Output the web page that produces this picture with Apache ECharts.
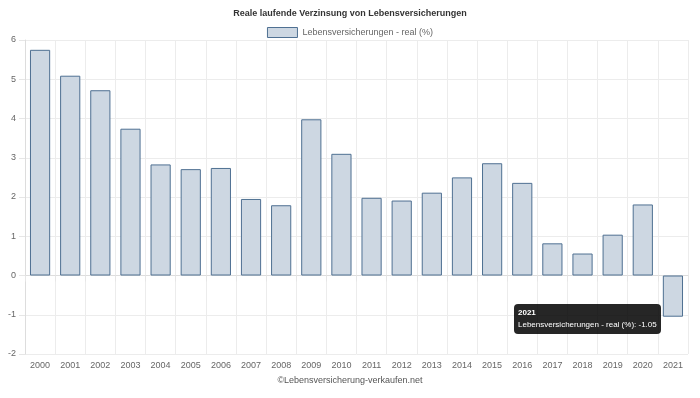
<!DOCTYPE html>
<html>
<head>
<meta charset="utf-8">
<script src="https://cdn.jsdelivr.net/npm/echarts@6/dist/echarts.min.js"></script>
<style>
  html, body { margin: 0; padding: 0; background: #fff; }
  #chart { width: 700px; height: 398px; }
</style>
</head>
<body>
<div id="chart"></div>
<script>
const years = ['2000', '2001', '2002', '2003', '2004', '2005', '2006', '2007', '2008', '2009', '2010',
  '2011', '2012', '2013', '2014', '2015', '2016', '2017', '2018', '2019', '2020', '2021'];
const realRates = [5.75, 5.09, 4.72, 3.74, 2.83, 2.71, 2.74, 1.95, 1.79, 3.98, 3.10,
  1.98, 1.91, 2.11, 2.50, 2.86, 2.36, 0.82, 0.56, 1.04, 1.81, -1.05];
const seriesName = 'Lebensversicherungen - real (%)';

const font = '"Liberation Sans", Arial, sans-serif';
const chart = echarts.init(document.getElementById('chart'));

chart.setOption({
  animation: false,
  textStyle: { fontFamily: font },
  title: {
    text: 'Reale laufende Verzinsung von Lebensversicherungen',
    left: 'center',
    top: 4,
    textStyle: { fontSize: 9, fontWeight: 'bold', color: '#333', fontFamily: font },
  },
  legend: {
    top: 22,
    left: 'center',
    itemWidth: 30,
    itemHeight: 10,
    icon: 'rect',
    itemStyle: { borderWidth: 1 },
    textStyle: { fontSize: 9, color: '#666', fontFamily: font },
    data: [seriesName],
  },
  graphic: [{
    type: 'text',
    left: 'center',
    top: 376,
    style: { text: '©Lebensversicherung-verkaufen.net', fontSize: 9, fill: '#555', fontFamily: font },
  }],
  tooltip: {
    trigger: 'item',
    alwaysShowContent: true,
    transitionDuration: 0,
    backgroundColor: 'rgba(0,0,0,0.85)',
    borderWidth: 0,
    padding: [3, 4],
    textStyle: { color: '#fff', fontSize: 8, fontFamily: font },
    extraCssText: 'border-radius:4px;box-shadow:none;line-height:12px;',
    position: [514, 304],
    formatter: (p) => '<b>' + p.name + '</b><br>' + p.seriesName + ': ' + p.value,
  },
  grid: { left: 25, right: 12, top: 40, bottom: 44 },
  xAxis: {
    type: 'category',
    data: years,
    axisLine: { lineStyle: { color: '#ddd' } },
    axisTick: { show: true, length: 6, lineStyle: { color: '#e6e6e6' } },
    axisLabel: { fontSize: 9, color: '#666', margin: 7 },
    splitLine: { show: true, lineStyle: { color: '#ececec' } },
  },
  yAxis: {
    type: 'value',
    min: -2,
    max: 6,
    interval: 1,
    axisLine: { show: true, lineStyle: { color: '#ddd' } },
    axisTick: { show: true, length: 6, lineStyle: { color: '#e6e6e6' } },
    axisLabel: { fontSize: 9, color: '#666', margin: 9 },
    splitLine: { lineStyle: { color: '#ececec' } },
  },
  series: [{
    name: seriesName,
    type: 'bar',
    data: realRates,
    barCategoryGap: '33%',
    itemStyle: {
      color: 'rgba(205,215,226,1)',
      borderColor: '#4f7092',
      borderWidth: 1,
    },
  }],
});

chart.dispatchAction({ type: 'showTip', seriesIndex: 0, dataIndex: years.length - 1 });
</script>
</body>
</html>
